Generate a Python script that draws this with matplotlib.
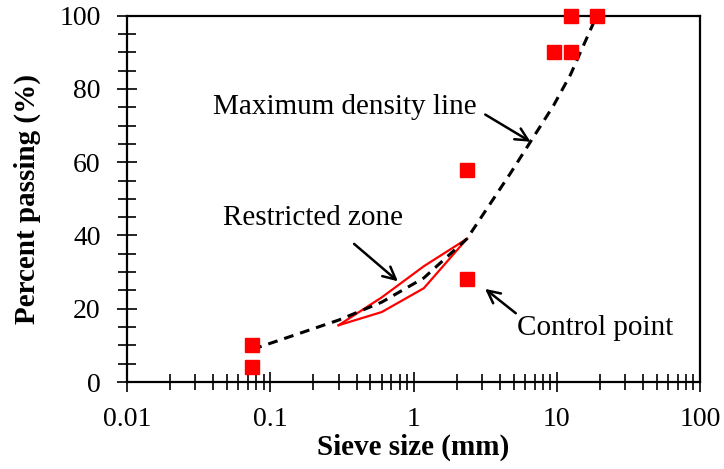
import numpy as np
import matplotlib
matplotlib.use("Agg")
import matplotlib.pyplot as plt
from matplotlib.ticker import LogLocator, MultipleLocator, NullFormatter

plt.rcParams['font.family'] = ['Liberation Serif', 'DejaVu Serif']

# maximum density line (0.45 power chart)
mdl_size = [0.075, 0.3, 0.6, 1.18, 2.36, 4.75, 9.5, 12.5, 19]
mdl_pass = [8.9, 16.9, 21.8, 28.4, 39.1, 57.0, 75.5, 84.0, 100.0]

# restricted zone boundaries
rz_size = [0.3, 0.6, 1.18, 2.36]
rz_upper = [15.5, 23.1, 31.6, 39.1]
rz_lower = [15.5, 19.1, 25.6, 39.1]

# control points
cp_size = [0.075, 0.075, 2.36, 2.36, 9.5, 12.5, 12.5, 19]
cp_pass = [4, 10, 28, 58, 90, 90, 100, 100]

fig = plt.figure(figsize=(7.24, 4.69), dpi=100)
ax = fig.add_axes([0.1754, 0.1855, 0.7915, 0.781])

ax.plot(rz_size, rz_upper, color='red', lw=1.6, zorder=2)
ax.plot(rz_size, rz_lower, color='red', lw=1.6, zorder=2)
ax.plot(mdl_size, mdl_pass, color='black', lw=2.2, dashes=(3.2, 2.3), zorder=3)
ax.plot(cp_size, cp_pass, linestyle='none', marker='s', ms=10,
        color='red', mec='red', zorder=4, clip_on=False)

ax.set_xscale('log')
ax.set_xlim(0.01, 100)
ax.set_ylim(0, 100)

ax.xaxis.set_minor_locator(LogLocator(base=10, subs=np.arange(2, 10), numticks=20))
ax.xaxis.set_minor_formatter(NullFormatter())
ax.set_xticks([0.01, 0.1, 1, 10, 100])
ax.set_xticklabels(['0.01', '0.1', '1', '10', '100'])
ax.yaxis.set_major_locator(MultipleLocator(20))
ax.yaxis.set_minor_locator(MultipleLocator(5))

ax.tick_params(axis='both', which='both', direction='inout', width=1.2,
               labelsize=20, colors='black')
ax.tick_params(axis='x', which='major', length=14, pad=11)
ax.tick_params(axis='x', which='minor', length=12)
ax.tick_params(axis='y', which='major', length=14, pad=12)
ax.tick_params(axis='y', which='minor', length=13)

for s in ax.spines.values():
    s.set_linewidth(1.6)
    s.set_color('black')

ax.set_xlabel('Sieve size (mm)', fontsize=21, fontweight='bold', labelpad=1)
ax.set_ylabel('Percent passing (%)', fontsize=21, fontweight='bold')
ax.yaxis.set_label_coords(-0.15, 0.5)

arrow = dict(arrowstyle='->,head_length=0.9,head_width=0.45', color='black', lw=1.8)
ax.annotate('', xy=(6.82, 65.2), xytext=(3.05, 73.4), arrowprops=arrow)
ax.annotate('', xy=(0.805, 27.0), xytext=(0.372, 38.2), arrowprops=arrow)
ax.annotate('', xy=(3.05, 25.9), xytext=(5.36, 18.3), arrowprops=arrow)

ax.text(0.333, 75.1, 'Maximum density line', fontsize=21, ha='center', va='center')
ax.text(0.199, 44.8, 'Restricted zone', fontsize=21, ha='center', va='center')
ax.text(18.5, 14.7, 'Control point', fontsize=21, ha='center', va='center')

fig.savefig('out.png', dpi=100)
